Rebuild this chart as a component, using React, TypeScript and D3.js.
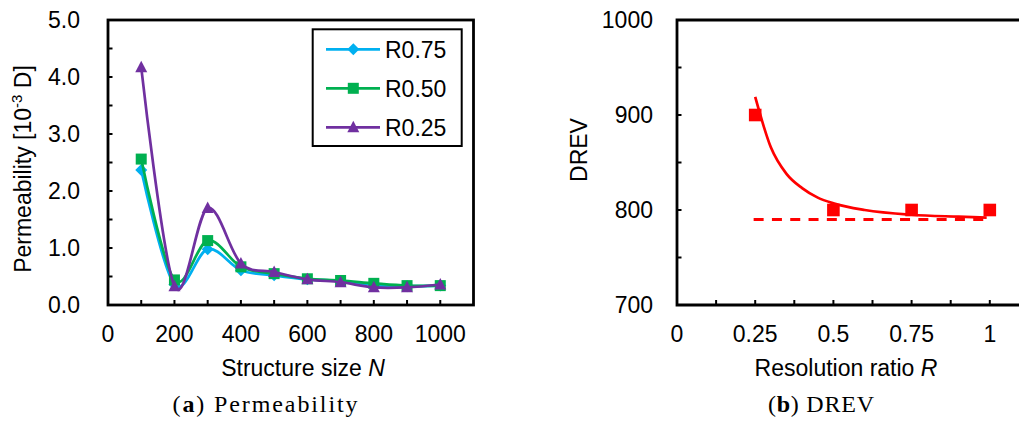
import React from 'react';
import * as d3 from 'd3';

// ---- Panel (a) data ----
const structureSizes = [100, 200, 300, 400, 500, 600, 700, 800, 900, 1000];
const permR075 = [2.37, 0.36, 0.98, 0.61, 0.52, 0.45, 0.42, 0.35, 0.33, 0.34];
const permR050 = [2.56, 0.44, 1.13, 0.67, 0.55, 0.46, 0.43, 0.38, 0.34, 0.34];
const permR025 = [4.17, 0.33, 1.70, 0.73, 0.58, 0.45, 0.40, 0.31, 0.31, 0.36];
const seriesNames = ['R0.75', 'R0.50', 'R0.25'];
const xTickLabelsA = [0, 200, 400, 600, 800, 1000];
const yTickLabelsA = [0, 1, 2, 3, 4, 5];

// ---- Panel (b) data ----
const resRatio = [0.25, 0.5, 0.75, 1];
const drevValues = [900, 800, 800, 800];
const fitRatio = [0.25, 0.3, 0.35, 0.4, 0.45, 0.5, 0.6, 0.75, 0.9, 0.99];
const fitDrev = [919, 866, 838, 823, 813, 807, 800, 795, 793, 792];
const asymRatio = [0.245, 0.995];
const asymDrev = [790, 790];
const xTickLabelsB = ['0', '0.25', '0.5', '0.75', '1'];
const yTickLabelsB = [700, 800, 900, 1000];

const SANS = "'Liberation Sans', Arial, sans-serif";
const SERIF = "'Liberation Serif', 'Times New Roman', serif";
const FS = 23;

const colors = ['#00B0F0', '#00B050', '#7030A0'];

function marker(kind: number, x: number, y: number, color: string, key: string) {
  if (kind === 0) {
    const r = 6;
    return <path key={key} d={`M${x},${y - r}L${x + r},${y}L${x},${y + r}L${x - r},${y}Z`} fill={color} />;
  }
  if (kind === 1) {
    const r = 5.5;
    return <rect key={key} x={x - r} y={y - r} width={2 * r} height={2 * r} fill={color} />;
  }
  const h = 6.5;
  return <path key={key} d={`M${x},${y - h}L${x + 6},${y + 5}L${x - 6},${y + 5}Z`} fill={color} />;
}

export default function App() {
  const xA = d3.scaleLinear().domain([0, 1100]).range([108, 473.5]);
  const yA = d3.scaleLinear().domain([0, 5]).range([305, 20]);
  const seriesA = [permR075, permR050, permR025];
  const lineA = d3
    .line<[number, number]>()
    .x((d) => xA(d[0]))
    .y((d) => yA(d[1]))
    .curve(d3.curveCatmullRom.alpha(0));

  const xB = d3.scaleLinear().domain([0, 1.25]).range([677, 1068]);
  const yB = d3.scaleLinear().domain([700, 1000]).range([305, 20]);
  const lineB = d3
    .line<[number, number]>()
    .x((d) => xB(d[0]))
    .y((d) => yB(d[1]))
    .curve(d3.curveMonotoneX);

  const xMinorA = d3.range(100, 1001, 100);
  const yMinorA = d3.range(0.5, 5, 0.5);
  const xMinorB = d3.range(0.125, 1.01, 0.125);
  const yMinorB = d3.range(750, 1000, 50);

  const AX = 2.8;

  return (
    <svg width={1019} height={421} style={{ position: 'absolute', left: 0, top: 0, background: '#fff' }}>
      <rect x={0} y={0} width={1019} height={421} fill="#fff" />
      {/* ===== Panel (a) ===== */}
      <g>
        {xMinorA.map((v) => (
          <line key={'xa' + v} x1={xA(v)} x2={xA(v)} y1={yA(0)} y2={yA(0) - 5} stroke="#000" strokeWidth={2} />
        ))}
        {yMinorA.map((v) => (
          <line key={'ya' + v} x1={xA(0)} x2={xA(0) + 4.5} y1={yA(v)} y2={yA(v)} stroke="#000" strokeWidth={2} />
        ))}
        <rect x={xA(0)} y={yA(5)} width={xA(1100) - xA(0)} height={yA(0) - yA(5)} fill="none" stroke="#000" strokeWidth={AX} />
        {xTickLabelsA.map((v) => (
          <text key={'xla' + v} x={xA(v)} y={342} textAnchor="middle" fontFamily={SANS} fontSize={FS} fill="#000">
            {v}
          </text>
        ))}
        {yTickLabelsA.map((v) => (
          <text key={'yla' + v} x={80} y={yA(v)} dy="0.36em" textAnchor="end" fontFamily={SANS} fontSize={FS} fill="#000">
            {v.toFixed(1)}
          </text>
        ))}
        {seriesA.map((vals, si) => {
          const pts = structureSizes.map((s, i) => [s, vals[i]] as [number, number]);
          return (
            <g key={'sa' + si}>
              <path d={lineA(pts) || ''} fill="none" stroke={colors[si]} strokeWidth={2.7} />
              {pts.map((p, i) => marker(si, xA(p[0]), yA(p[1]), colors[si], 'm' + si + '-' + i))}
            </g>
          );
        })}
        <rect x={312.7} y={29.3} width={149} height={116.7} fill="#fff" stroke="#000" strokeWidth={2} />
        {seriesNames.map((n, i) => {
          const cy = 49.3 + i * 39;
          return (
            <g key={'lg' + i}>
              <line x1={326} x2={380} y1={cy} y2={cy} stroke={colors[i]} strokeWidth={2.7} />
              {marker(i, 353.3, cy, colors[i], 'lm' + i)}
              <text x={385} y={cy} dy="0.36em" fontFamily={SANS} fontSize={FS} fill="#000">
                {n}
              </text>
            </g>
          );
        })}
        <text transform="translate(31,169) rotate(-90)" textAnchor="middle" fontFamily={SANS} fontSize={FS} fill="#000">
          Permeability [10<tspan fontSize={15} dy={-9}>-3</tspan>
          <tspan dy={9}> D]</tspan>
        </text>
        <text x={303} y={376} textAnchor="middle" fontFamily={SANS} fontSize={FS} fill="#000">
          Structure size <tspan fontStyle="italic">N</tspan>
        </text>
        <text x={265} y={412} textAnchor="middle" fontFamily={SERIF} fontSize={24} fill="#000" textLength={185} lengthAdjust="spacing">
          (<tspan fontWeight="bold">a</tspan>) Permeability
        </text>
      </g>

      {/* ===== Panel (b) ===== */}
      <g>
        {xMinorB.map((v) => (
          <line key={'xb' + v} x1={xB(v)} x2={xB(v)} y1={yB(700)} y2={yB(700) - 5} stroke="#000" strokeWidth={2} />
        ))}
        {yMinorB.map((v) => (
          <line key={'yb' + v} x1={xB(0)} x2={xB(0) + 4.5} y1={yB(v)} y2={yB(v)} stroke="#000" strokeWidth={2} />
        ))}
        <path
          d={`M${xB(1.25)},${yB(1000)}L${xB(0)},${yB(1000)}L${xB(0)},${yB(700)}L${xB(1.25)},${yB(700)}`}
          fill="none"
          stroke="#000"
          strokeWidth={AX}
        />
        {xTickLabelsB.map((v) => (
          <text key={'xlb' + v} x={xB(+v)} y={342} textAnchor="middle" fontFamily={SANS} fontSize={FS} fill="#000">
            {v}
          </text>
        ))}
        {yTickLabelsB.map((v) => (
          <text key={'ylb' + v} x={653} y={yB(v)} dy="0.36em" textAnchor="end" fontFamily={SANS} fontSize={FS} fill="#000">
            {v}
          </text>
        ))}
        <path
          d={lineB(asymRatio.map((r, i) => [r, asymDrev[i]] as [number, number])) || ''}
          fill="none"
          stroke="#FF0000"
          strokeWidth={3}
          strokeDasharray="10,8.3"
        />
        <path
          d={lineB(fitRatio.map((r, i) => [r, fitDrev[i]] as [number, number])) || ''}
          fill="none"
          stroke="#FF0000"
          strokeWidth={2.7}
        />
        {resRatio.map((r, i) => (
          <rect key={'pb' + i} x={xB(r) - 6.3} y={yB(drevValues[i]) - 6.3} width={12.6} height={12.6} fill="#FF0000" />
        ))}
        <text transform="translate(587,150) rotate(-90)" textAnchor="middle" fontFamily={SANS} fontSize={FS} fill="#000">
          DREV
        </text>
        <text x={846} y={376} textAnchor="middle" fontFamily={SANS} fontSize={FS} fill="#000">
          Resolution ratio <tspan fontStyle="italic">R</tspan>
        </text>
        <text x={821} y={412} textAnchor="middle" fontFamily={SERIF} fontSize={24} fill="#000" textLength={106} lengthAdjust="spacing">
          (<tspan fontWeight="bold">b</tspan>) DREV
        </text>
      </g>
    </svg>
  );
}
